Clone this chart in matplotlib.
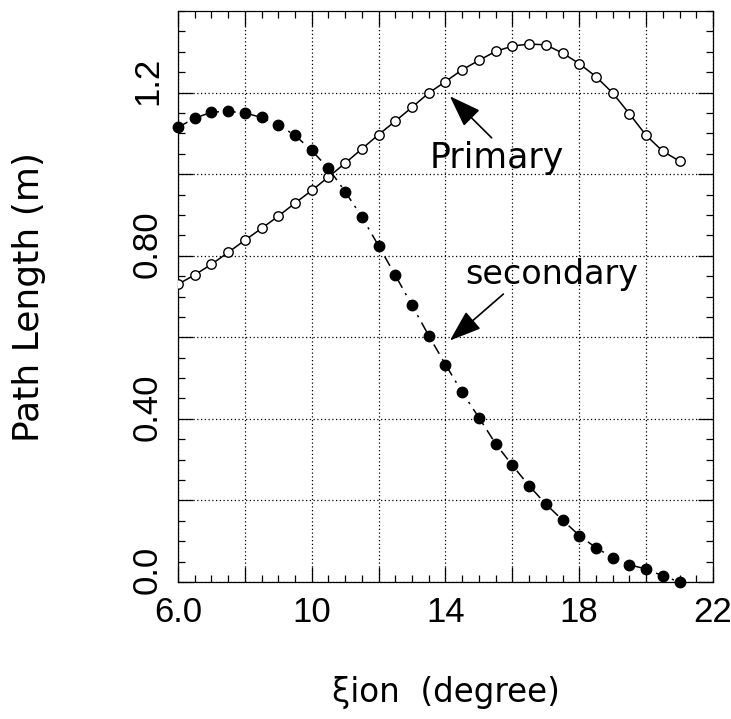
import matplotlib
matplotlib.use("Agg")
import matplotlib.pyplot as plt
from matplotlib.ticker import FixedLocator, FixedFormatter, MultipleLocator
from matplotlib.transforms import ScaledTranslation

# ion incidence angle (degree)
xi_deg = [6.0, 6.5, 7.0, 7.5, 8.0, 8.5, 9.0, 9.5, 10.0, 10.5,
          11.0, 11.5, 12.0, 12.5, 13.0, 13.5, 14.0, 14.5, 15.0, 15.5,
          16.0, 16.5, 17.0, 17.5, 18.0, 18.5, 19.0, 19.5, 20.0, 20.5, 21.0]

# path length of the primary beam (m)
primary = [0.730, 0.753, 0.779, 0.808, 0.838, 0.867, 0.897, 0.929, 0.960, 0.993,
           1.027, 1.062, 1.097, 1.130, 1.164, 1.199, 1.227, 1.256, 1.279, 1.301,
           1.314, 1.319, 1.317, 1.297, 1.271, 1.239, 1.199, 1.148, 1.095, 1.056, 1.032]

# path length of the secondary beam (m)
secondary = [1.115, 1.137, 1.152, 1.154, 1.150, 1.139, 1.121, 1.095, 1.058, 1.014,
             0.957, 0.895, 0.824, 0.752, 0.678, 0.604, 0.533, 0.465, 0.403, 0.339,
             0.286, 0.236, 0.191, 0.152, 0.114, 0.084, 0.060, 0.042, 0.032, 0.015, 0.000]

x_major = [6, 8, 10, 12, 14, 16, 18, 20, 22]
x_labels = ["6.0", "", "10", "", "14", "", "18", "", "22"]
y_major = [0.0, 0.2, 0.4, 0.6, 0.8, 1.0, 1.2]
y_labels = ["0.0", "", "0.40", "", "0.80", "", "1.2"]

fig = plt.figure(figsize=(7.31, 7.19), dpi=100)
ax = fig.add_axes([178 / 731, 1 - 582 / 719, 535 / 731, 571 / 719])

ax.plot(xi_deg, primary, color="black", lw=1.1, marker="o", ms=6.8,
        mfc="white", mec="black", mew=1.0, zorder=3)
ax.plot(xi_deg, secondary, color="black", lw=1.1, ls=(0, (7, 4, 1.5, 4)),
        marker="o", ms=7.5, mfc="black", mec="black", zorder=3, clip_on=False)

ax.set_xlim(6, 22)
ax.set_ylim(0, 1.4)

ax.xaxis.set_major_locator(FixedLocator(x_major))
ax.xaxis.set_major_formatter(FixedFormatter(x_labels))
ax.xaxis.set_minor_locator(MultipleLocator(0.5))
ax.yaxis.set_major_locator(FixedLocator(y_major))
ax.yaxis.set_major_formatter(FixedFormatter(y_labels))
ax.yaxis.set_minor_locator(MultipleLocator(0.05))

ax.grid(True, which="major", color="black", lw=0.9, ls=(0, (1, 2)))

ax.tick_params(which="both", direction="in", top=True, right=True,
               width=0.9, labelsize=25, pad=10)
ax.tick_params(which="major", length=11)
ax.tick_params(which="minor", length=5)
ax.tick_params(axis="y", labelrotation=90)
for side in ax.spines.values():
    side.set_linewidth(0.9)

for lbl in ax.get_xticklabels() + ax.get_yticklabels():
    lbl.set_fontfamily("Liberation Sans")
# y tick labels sit a little above their ticks
shift = ScaledTranslation(0, 0.12, fig.dpi_scale_trans)
for lbl in ax.get_yticklabels():
    lbl.set_va("center")
    lbl.set_transform(lbl.get_transform() + shift)

ax.set_xlabel("ξion  (degree)", fontsize=23.5, family="DejaVu Sans")
ax.xaxis.set_label_coords(0.5, -0.193)
ax.xaxis.label.set_va("center")
ax.set_ylabel("Path Length (m)", fontsize=26, family="DejaVu Sans")
ax.yaxis.set_label_coords(-0.2785, 0.5)
ax.yaxis.label.set_va("center")

arrow = dict(arrowstyle="-|>,head_length=0.9,head_width=0.32", color="black",
             lw=1.2, mutation_scale=22, shrinkA=0, shrinkB=0)
ax.text(13.54, 1.015, "Primary", fontsize=25, family="DejaVu Sans",
        ha="left", va="baseline")
ax.annotate("", xy=(14.13, 1.191), xytext=(15.38, 1.089), arrowprops=arrow)
ax.text(14.58, 0.731, "secondary", fontsize=24, family="DejaVu Sans",
        ha="left", va="baseline")
ax.annotate("", xy=(14.13, 0.592), xytext=(15.73, 0.706), arrowprops=arrow)

fig.savefig("out.png", dpi=100)
